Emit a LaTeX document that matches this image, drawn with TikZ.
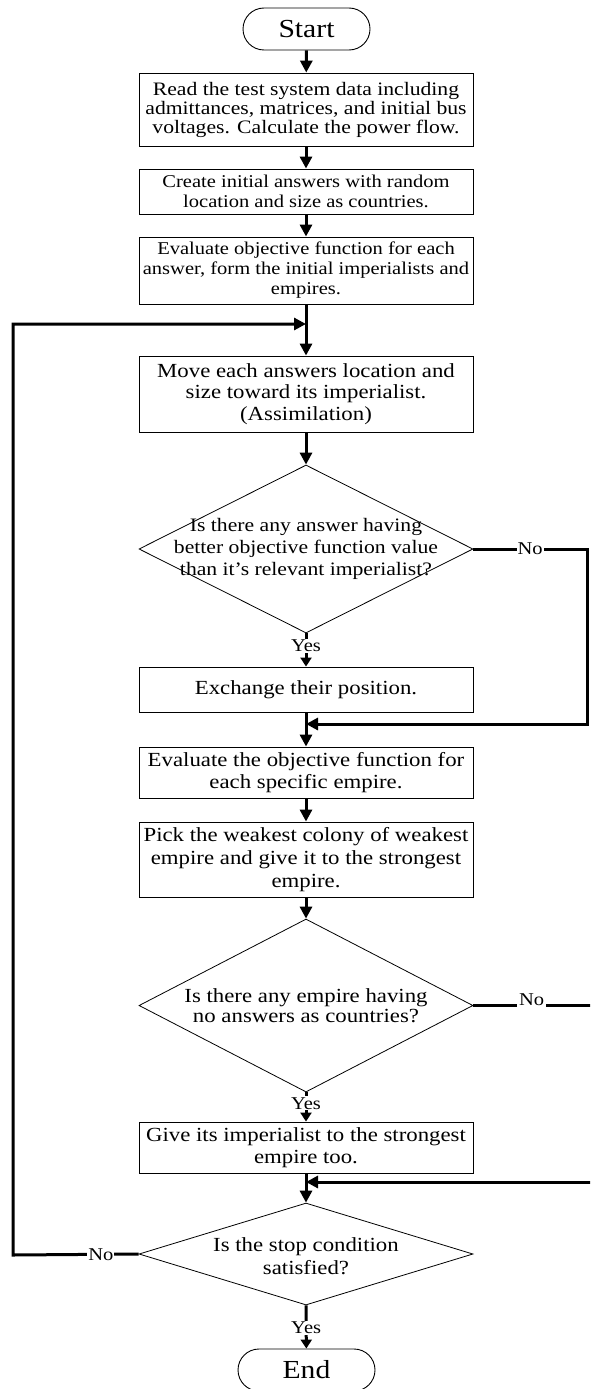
\documentclass[tikz,border=0pt]{standalone}
\usepackage{fontspec}
\setmainfont{Liberation Serif}[FakeStretch=1.14]
\usetikzlibrary{arrows.meta,shapes.geometric}

\begin{document}
\begin{tikzpicture}[x=1pt,y=1pt,yscale=-1,
  termbox/.style={draw,line width=0.9pt,rounded corners=21pt,minimum height=42pt,inner sep=0pt,font=\fontsize{26}{28}\selectfont},
  procbox/.style={draw,line width=0.9pt,minimum width=334pt,inner sep=0pt,align=center,font=\fontsize{20}{22}\selectfont},
  decbox/.style={draw,diamond,line width=0.8pt,minimum width=334pt,inner sep=0pt},
  dectext/.style={align=center,inner sep=0pt,font=\fontsize{19}{22}\selectfont},
  flow/.style={line width=3pt,-{Triangle[length=12pt,width=12pt]}},
  yesflow/.style={line width=3pt,-{Triangle[length=9pt,width=11pt]}},
  wire/.style={line width=3pt},
  lbl/.style={fill=white,inner sep=1pt,font=\fontsize{18}{20}\selectfont}]
\useasboundingbox (0,0) rectangle (590,1389);
\clip (0,0) rectangle (590,1389);

%Shape: Terminal [id:start]
\node[termbox,minimum width=127pt] (start) at (306.5,29) {Start};
%Shape: Rectangle [id:read]
\node[procbox,minimum height=73pt,font=\fontsize{19}{19}\selectfont] (read) at (306,109.5) {Read the test system data including\\admittances, matrices, and initial bus\\voltages. Calculate the power flow.};
%Shape: Rectangle [id:create]
\node[procbox,minimum height=45pt,font=\fontsize{18}{20}\selectfont] (create) at (306,191.5) {Create initial answers with random\\location and size as countries.};
%Shape: Rectangle [id:evalinit]
\node[procbox,minimum height=67pt,font=\fontsize{18}{20}\selectfont] (evalinit) at (306,270.5) {Evaluate objective function for each\\answer, form the initial imperialists and\\empires.};
%Shape: Rectangle [id:move]
\node[procbox,minimum height=76pt,font=\fontsize{20}{21.7}\selectfont] (move) at (306,394) {Move each answers location and\\size toward its imperialist.\\(Assimilation)};
%Shape: Diamond [id:d1]
\node[decbox,minimum height=168pt] (d1) at (306,549) {};
% Text Node
\node[dectext] (d1txt) at (d1.center) {Is there any answer having\\better objective function value\\than it’s relevant imperialist?};
%Shape: Rectangle [id:exchange]
\node[procbox,minimum height=45pt] (exchange) at (306,689.5) {Exchange their position.};
%Shape: Rectangle [id:evalemp]
\node[procbox,minimum height=51pt] (evalemp) at (306,772.5) {Evaluate the objective function for\\each specific empire.};
%Shape: Rectangle [id:pick]
\node[procbox,minimum height=75pt,font=\fontsize{20}{23}\selectfont] (pick) at (306,859.5) {Pick the weakest colony of weakest\\empire and give it to the strongest\\empire.};
%Shape: Diamond [id:d2]
\node[decbox,minimum height=173pt] (d2) at (306,1005.5) {};
% Text Node
\node[dectext,font=\fontsize{20}{20}\selectfont] (d2txt) at (d2.center) {Is there any empire having\\no answers as countries?};
%Shape: Rectangle [id:giveimp]
\node[procbox,minimum height=51pt] (giveimp) at (306,1147.5) {Give its imperialist to the strongest\\empire too.};
%Shape: Diamond [id:d3]
\node[decbox,minimum height=102pt] (d3) at (306,1254) {};
% Text Node
\node[dectext,font=\fontsize{20}{23}\selectfont] (d3txt) at (306,1256.5) {Is the stop condition\\satisfied?};
%Shape: Terminal [id:endn]
\node[termbox,minimum width=137pt] (endn) at (306.5,1370) {End};

%Junctions of the loops
\coordinate (j1) at (306,324);
\coordinate (j2) at (306,724);
\coordinate (j3) at (306,1182);
\coordinate (l1) at (13,1255);
\coordinate (l2) at (13,324);
\coordinate (r1a) at (587,549);
\coordinate (r1b) at (587,724);
\coordinate (r2a) at (600,1005.5);
\coordinate (r2b) at (600,1182);

%Straight Lines
\draw[flow] (start) -- (read);
\draw[flow] (read) -- (create);
\draw[flow] (create) -- (evalinit);
\draw[flow] (evalinit) -- (move);
\draw[flow] (move) -- (d1.north);
\draw[yesflow] (d1.south) -- node[lbl,pos=0.38] (yes1) {Yes} (exchange);
\draw[flow] (exchange) -- (evalemp);
\draw[flow] (evalemp) -- (pick);
\draw[flow] (pick) -- (d2.north);
\draw[yesflow] (d2.south) -- node[lbl,pos=0.37] (yes2) {Yes} (giveimp);
\draw[flow] (giveimp) -- (d3.north);
\draw[yesflow] (d3.south) -- node[lbl,pos=0.52] (yes3) {Yes} (endn);

%Loop Lines
\draw[flow] (d1.east) -- node[lbl] (no1) {No} (r1a) -- (r1b) -- (j2);
\draw[flow] (d2.east) -- node[lbl,anchor=base,inner sep=2pt,pos=0.46] (no2) {No} (r2a) -- (r2b) -- (j3);
\draw[flow] (d3.west) -- node[lbl,pos=0.3] (no3) {No} (l1) -- (l2) -- (j1);

\end{tikzpicture}
\end{document}
